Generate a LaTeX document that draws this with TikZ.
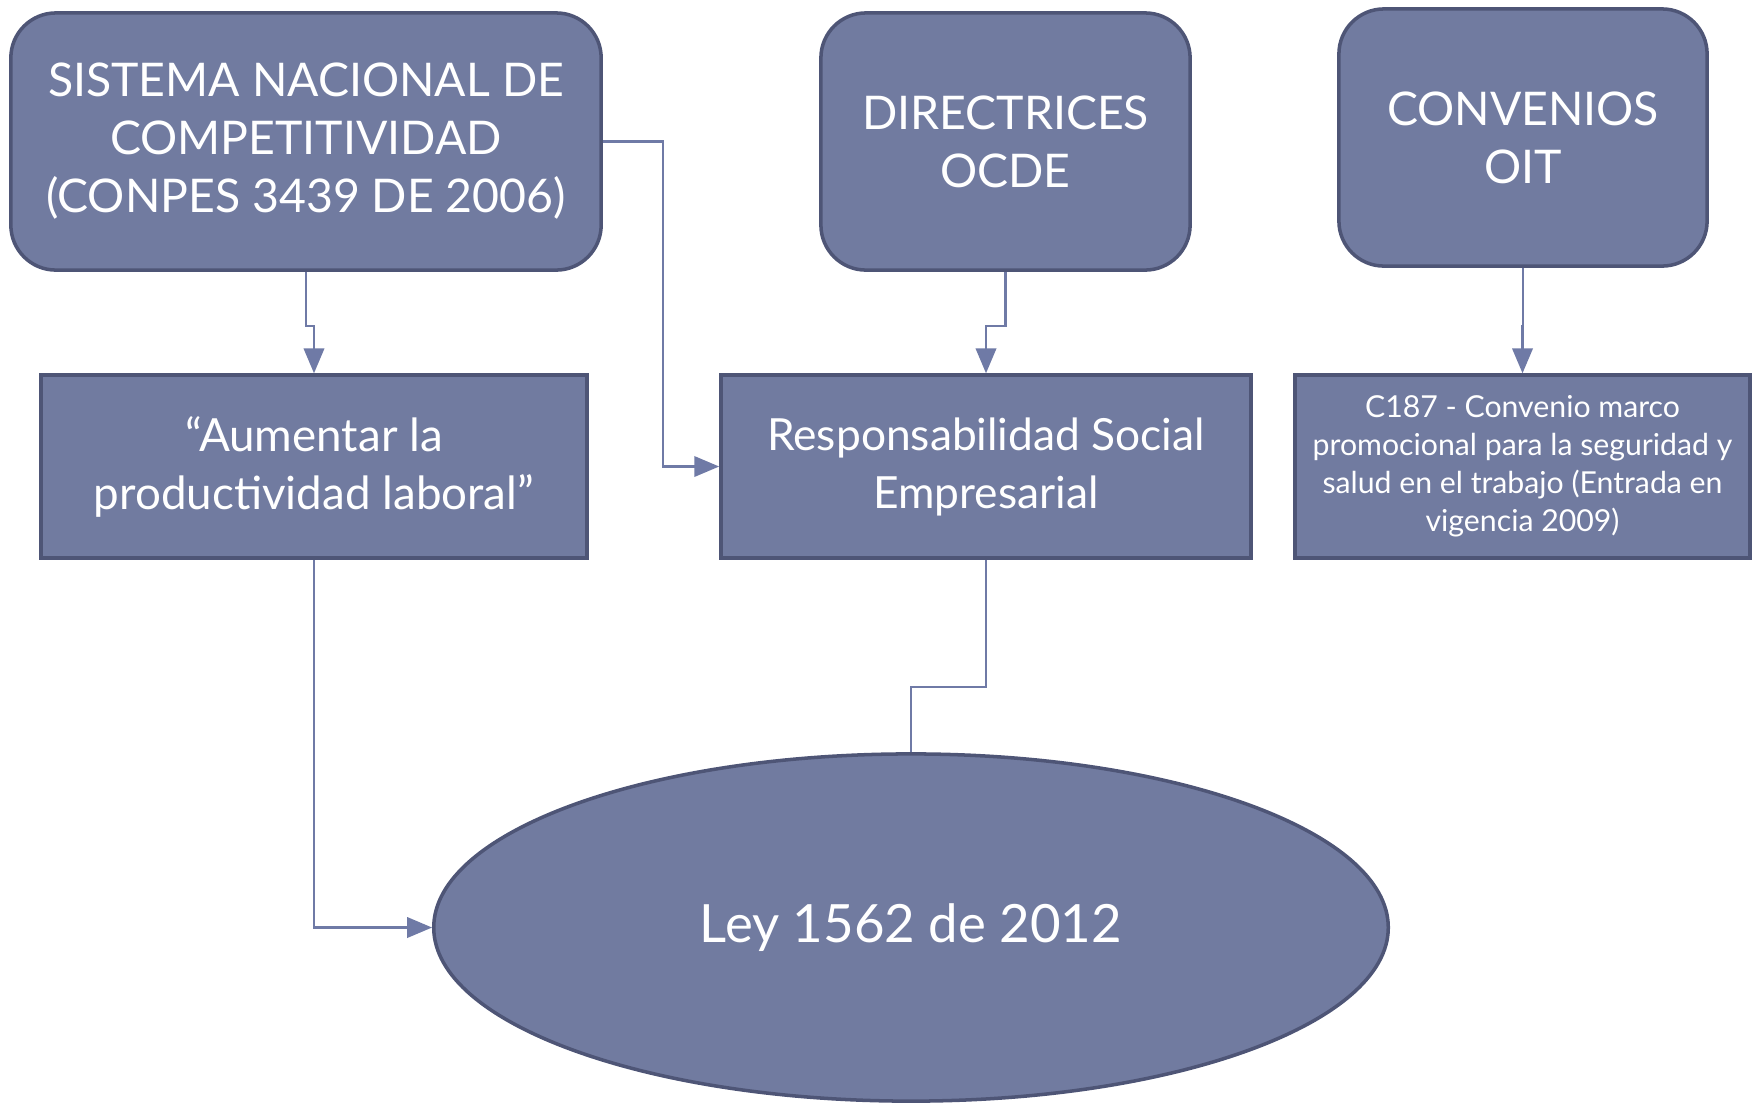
\documentclass[tikz,border=0pt]{standalone}
\usepackage{fontspec}
\setmainfont{Lato}
\usetikzlibrary{shapes,positioning,arrows}
\definecolor{azulcaja}{HTML}{717BA0}
\definecolor{bordecaja}{HTML}{4E5576}
\definecolor{azullinea}{HTML}{6F7AA6}
\tikzset{
  caja/.style={draw=bordecaja,fill=azulcaja,line width=1pt,text=white,align=center,inner sep=2pt},
  redondeada/.style={caja,rounded corners=0.45cm},
  conexion/.style={draw=azullinea,line width=0.6pt,->},
  linea/.style={draw=azullinea,line width=0.6pt}
}
\begin{document}
\begin{tikzpicture}[x=0.01cm,y=-0.01cm,font=\fontsize{13.2}{16.5}\selectfont,>=triangle 45]
\useasboundingbox (0,0) rectangle (1752,1102);
% fila superior
\node[redondeada,minimum width=5.9cm,minimum height=2.57cm] (sist) at (306,141.5) {SISTEMA NACIONAL DE\\COMPETITIVIDAD\\(CONPES 3439 DE 2006)};
\node[redondeada,minimum width=3.69cm,minimum height=2.57cm] (ocde) at (1005.5,141.5) {DIRECTRICES\\OCDE};
\node[redondeada,minimum width=3.68cm,minimum height=2.57cm] (oit) at (1523,137.5) {CONVENIOS\\OIT};
% fila media
\node[caja,minimum width=5.46cm,minimum height=1.83cm,font=\fontsize{13}{16.5}\selectfont] (aum) at (314,466.5) {``Aumentar la\\productividad laboral''};
\node[caja,minimum width=5.3cm,minimum height=1.83cm,font=\fontsize{12.6}{16.5}\selectfont] (rse) at (986,466.5) {Responsabilidad Social\\Empresarial};
\node[caja,minimum width=4.55cm,minimum height=1.83cm,font=\fontsize{8.6}{10.8}\selectfont] (c187) at (1522.5,466.5) {C187 - Convenio marco\\promocional para la seguridad y\\salud en el trabajo (Entrada en\\vigencia 2009)};
% ley
\node[caja,ellipse,minimum width=9.54cm,minimum height=3.47cm,font=\fontsize{15}{18}\selectfont] (ley) at (911,927.5) {Ley 1562 de 2012};
% conectores
\draw[conexion] (sist.south) -- ++(0,54) -| (aum.north);
\draw[conexion] (sist.east) -- ++(60,0) |- (rse.west);
\draw[conexion] (ocde.south) -- ++(0,54) -| (rse.north);
\draw[conexion] (oit.south) -- ++(0,58) -| (c187.north);
\draw[conexion] (aum.south) |- (ley.west);
\draw[linea] (rse.south) -- ++(0,127) -| (ley.north);
\end{tikzpicture}
\end{document}
